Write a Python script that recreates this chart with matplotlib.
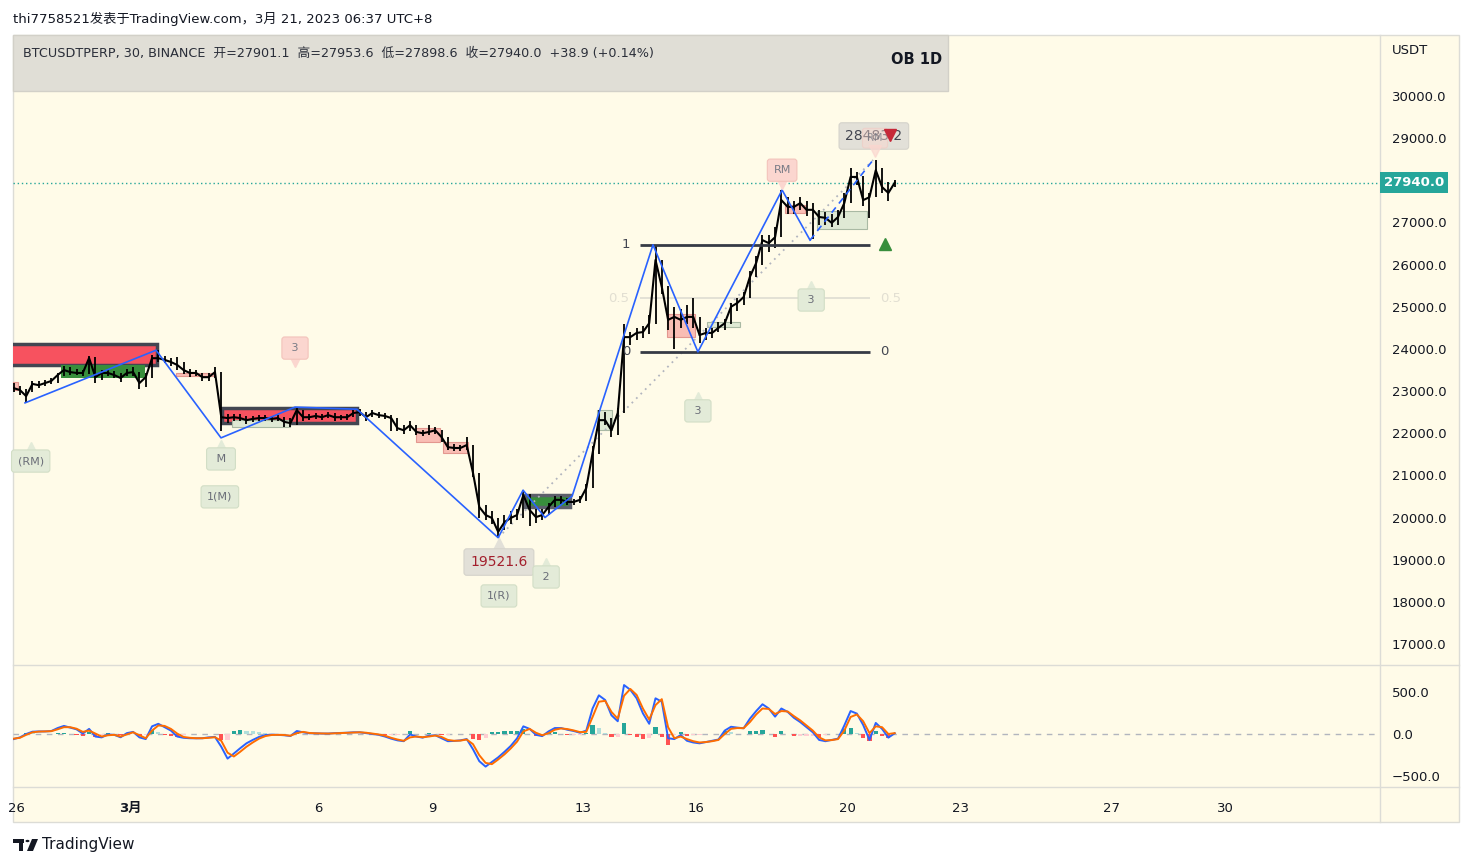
import matplotlib
matplotlib.use("Agg")
import matplotlib.pyplot as plt
import matplotlib.transforms as mtransforms
from matplotlib.patches import Rectangle, Polygon, Circle
from matplotlib.lines import Line2D
import numpy as np

plt.rcParams['font.family'] = ['DejaVu Sans', 'Noto Sans CJK SC']

W, H = 1472, 866
BG = '#fffbe8'

# time axis: days from Mar 1 00:00, one bar every 4h
t_start = -3.083
close = [23070, 23025, 22880, 23170, 23140, 23190, 23240, 23380, 23500, 23450,
         23430, 23430, 23785, 23330, 23430, 23430, 23380, 23310, 23430, 23450,
         23190, 23330, 23780, 23780, 23740, 23690, 23620, 23500, 23430, 23430,
         23330, 23330, 23450, 22380, 22360, 22380, 22360, 22310, 22340, 22360,
         22360, 22340, 22360, 22270, 22240, 22550, 22380, 22380, 22410, 22380,
         22430, 22380, 22380, 22380, 22480, 22500, 22380, 22480, 22430, 22410,
         22360, 22120, 22070, 22190, 22030, 22000, 22030, 22070, 21910, 21670,
         21650, 21650, 21720, 21060, 20250, 20060, 19990, 19660, 19890, 19990,
         20060, 20530, 20180, 20010, 20060, 20250, 20420, 20420, 20370, 20370,
         20420, 20700, 21530, 22310, 22310, 22070, 22480, 24280, 24280, 24380,
         24400, 24610, 26110, 25470, 24690, 24760, 24690, 24760, 24760, 24330,
         24380, 24380, 24500, 24610, 25000, 25090, 25230, 25710, 26040, 26580,
         26510, 26650, 27530, 27370, 27370, 27460, 27300, 27300, 27130, 27110,
         26990, 27130, 27460, 28080, 28080, 27530, 27600, 28240, 27840, 27700,
         27940]

high = [23200, 23120, 23050, 23230, 23230, 23260, 23300, 23420, 23600, 23560,
        23520, 23500, 23840, 23800, 23500, 23530, 23480, 23420, 23520, 23560,
        23450, 23420, 23850, 23970, 23830, 23780, 23800, 23700, 23520, 23500,
        23420, 23430, 23570, 23450, 22450, 22460, 22460, 22420, 22420, 22440,
        22430, 22420, 22430, 22380, 22360, 22620, 22560, 22450, 22470, 22450,
        22500, 22470, 22440, 22450, 22540, 22580, 22500, 22560, 22500, 22470,
        22430, 22360, 22200, 22280, 22200, 22080, 22200, 22140, 22070, 21900,
        21740, 21730, 21900, 21720, 21060, 20300, 20150, 20000, 20050, 20150,
        20200, 20650, 20550, 20200, 20200, 20350, 20500, 20500, 20460, 20450,
        20500, 20800, 21700, 22550, 22500, 22350, 22600, 24600, 24400, 24500,
        24550, 24800, 26470, 26100, 25500, 25000, 24950, 25050, 25200, 24760,
        24500, 24500, 24650, 24700, 25100, 25200, 25350, 25850, 26200, 26700,
        26700, 26900, 27770, 27600, 27500, 27600, 27500, 27450, 27300, 27250,
        27200, 27300, 27700, 28300, 28200, 28100, 27700, 28483.2, 28300, 27950,
        28000]

low = [22990, 22900, 22720, 22990, 23080, 23110, 23160, 23200, 23360, 23380,
       23370, 23360, 23400, 23200, 23260, 23350, 23300, 23220, 23350, 23360,
       23050, 23100, 23300, 23700, 23660, 23600, 23500, 23400, 23340, 23350,
       23250, 23250, 23300, 22050, 22250, 22300, 22280, 22230, 22270, 22290,
       22300, 22260, 22290, 22150, 22150, 22200, 22300, 22320, 22340, 22320,
       22360, 22300, 22310, 22320, 22380, 22420, 22300, 22380, 22370, 22340,
       22050, 22050, 21980, 22050, 21960, 21930, 21960, 21980, 21800, 21600,
       21580, 21580, 21600, 20950, 20000, 19950, 19850, 19521.6, 19700, 19850,
       19950, 20000, 19800, 19880, 19950, 20050, 20250, 20330, 20300, 20300,
       20340, 20400, 20700, 21500, 22200, 21900, 21950, 22480, 24100, 24200,
       24250, 24350, 24600, 25300, 24450, 24000, 24500, 24600, 24500, 24150,
       24200, 24250, 24400, 24450, 24600, 24900, 25050, 25200, 25700, 26000,
       26300, 26400, 26650, 27200, 27200, 27300, 27150, 26600, 26950, 26950,
       26900, 26950, 27100, 27450, 27900, 27400, 27100, 27600, 27700, 27500,
       27850]

macd = [-60, -40, 0, 27, 30, 30, 35, 70, 95, 75,
        55, 5, 60, -30, -40, -5, -10, -39, 10, 25,
        -40, -60, 90, 120, 80, 40, -30, -45, -50, -51,
        -50, -40, -35, -150, -290, -230, -168, -110, -70, -35,
        -12, -8, -10, -15, -24, 35, 20, 8, 8, 5,
        5, 10, 12, 15, 20, 20, 10, 0, -10, -30,
        -55, -75, -85, -5, -30, -43, -20, -15, -50, -85,
        -82, -75, -60, -180, -320, -384, -330, -275, -210, -140,
        -51, 90, 60, -10, -25, 30, 70, 70, 50, 35,
        15, 40, 300, 455, 400, 220, 150, 576, 520, 420,
        243, 120, 420, 380, -50, -60, -12, -80, -100, -110,
        -95, -80, -65, 40, 85, 75, 67, 180, 270, 350,
        300, 204, 300, 260, 190, 140, 80, 20, -70, -85,
        -70, -55, 100, 270, 240, 106, -70, 130, 60, -43,
        8]

signal = [-55, -45, -10, 20, 28, 30, 33, 55, 80, 80,
          62, 25, 40, 5, -30, -15, -10, -30, -5, 20,
          -15, -50, 40, 100, 95, 60, 5, -35, -45, -50,
          -50, -45, -38, -80, -220, -265, -210, -150, -100, -55,
          -25, -12, -10, -12, -20, 10, 25, 12, 8, 6,
          5, 8, 10, 13, 17, 20, 15, 5, -5, -20,
          -45, -65, -80, -40, -30, -38, -30, -18, -35, -70,
          -80, -78, -65, -120, -250, -340, -355, -300, -240, -170,
          -90, 30, 60, 15, -15, 10, 50, 65, 58, 42,
          22, 25, 200, 380, 390, 260, 180, 450, 530, 460,
          300, 170, 340, 410, 80, -50, -30, -60, -85, -100,
          -95, -85, -70, 0, 60, 70, 68, 140, 230, 300,
          295, 235, 270, 265, 210, 160, 100, 40, -40, -75,
          -72, -60, 40, 200, 230, 150, 10, 90, 80, 0,
          10]

hist = [-5, 5, 10, 7, 2, 0, 2, 15, 15, -5,
        -7, -20, 20, -35, -10, 10, 0, -9, 15, 5,
        -25, -10, 50, 20, -15, -20, -35, -10, -5, -1,
        0, 5, 3, -70, -70, 35, 42, 40, 30, 20,
        13, 4, 0, -3, -4, 25, -5, -4, 0, -1,
        0, 2, 2, 2, 3, 0, -5, -5, -5, -10,
        -10, -10, -5, 35, 0, -5, 10, 3, -15, -15,
        -2, 3, 5, -60, -70, -44, 25, 25, 30, 30,
        39, 60, 0, -25, -10, 20, 20, 5, -8, -7,
        -7, 15, 100, 75, 10, -40, -30, 126, -10, -40,
        -57, -50, 80, -30, -130, -10, 18, -20, -15, -10,
        0, 5, 5, 40, 25, 5, -1, 40, 40, 50,
        5, -31, 30, -5, -20, -20, -20, -20, -30, -10,
        2, 5, 60, 70, 10, -44, -80, 40, -20, -43,
        -2]

# zigzag pivots (day, price)
zz_days = [-2.78, 0.69, 2.41, 4.37, 6.01, 9.75, 10.41, 10.99, 11.71, 13.85, 15.04, 17.27, 18.01]
zz_prices = [22720, 23970, 21890, 22620, 22570, 19521.6, 20650, 20000, 20510, 26470, 23930, 27770, 26580]
zz_last_days = [18.01, 19.68]
zz_last_prices = [26580, 28483.2]
trend_days = [9.75, 19.68]
trend_prices = [19521.6, 28483.2]

# fib retracement
fib_span = (13.51, 19.60)
fib_hi, fib_lo = 26470, 23930

# boxes: (day0, day1, top, bottom, kind)
boxes = [
    (-3.5, 0.72, 24116, 23618, 'red'),
    (-1.83, 0.40, 23618, 23310, 'green'),
    (-3.5, -2.97, 23215, 23025, 'pink'),
    (1.22, 2.20, 23435, 23357, 'pink'),
    (2.44, 6.01, 22598, 22242, 'red'),
    (2.70, 4.24, 22313, 22147, 'pale'),
    (7.57, 8.21, 22123, 21791, 'pink'),
    (8.29, 8.95, 21791, 21530, 'pink'),
    (10.46, 11.65, 20534, 20249, 'greenb'),
    (12.37, 12.76, 22551, 22076, 'pale'),
    (14.22, 14.96, 24828, 24282, 'pink'),
    (15.28, 16.15, 24638, 24520, 'pale'),
    (17.35, 17.88, 27414, 27224, 'pink'),
    (18.19, 19.52, 27272, 26845, 'pale'),
]

# bubble labels: (text, day, price, style, pointer)
labels = [
    ("(RM)", -2.63, 21340, 'green', 'up'),
    (" M ", 2.41, 21390, 'green', 'up'),
    ("1(M)", 2.38, 20490, 'green', None),
    (" 3 ", 4.37, 24020, 'pink', 'down'),
    (" 2 ", 11.02, 18590, 'green', 'up'),
    ("1(R)", 9.77, 18140, 'green', None),
    (" 3 ", 15.04, 22530, 'green', 'up'),
    (" 3 ", 18.04, 25160, 'green', 'up'),
    ("RM", 17.27, 28240, 'pink', 'down'),
]
price_tags = [("19521.6", 9.77, 18944, '#a31f2d'), ("28483.2", 19.70, 29051, '#434651')]
top_rm = ("RM", 19.73, 29000)

last_price = 27940.0
price_ticks = [17000, 18000, 19000, 20000, 21000, 22000, 23000, 24000, 25000, 26000, 27000, 29000, 30000]
date_ticks = [-3, 0, 5, 8, 12, 15, 19, 22, 26, 29]
date_labels = ["26", "3月", "6", "9", "13", "16", "20", "23", "27", "30"]

t = t_start + np.arange(len(close)) / 6.0

fig = plt.figure(figsize=(W / 100, H / 100), dpi=100)
fig.patch.set_facecolor('white')


def fx(p):
    return p / W


def fy(p):
    return 1 - p / H


def px_axes(x0, y0, x1, y1):
    return fig.add_axes([fx(x0), fy(y1), (x1 - x0) / W, (y1 - y0) / H])


fig.add_artist(Rectangle((fx(13), fy(822)), (1459 - 13) / W, (822 - 35) / H,
                         transform=fig.transFigure, fc=BG, ec='#dcdcd6', lw=1, zorder=-5))
for (x0, y0, x1, y1) in [(13, 665, 1459, 665), (13, 787, 1459, 787), (1380, 35, 1380, 822)]:
    fig.add_artist(Line2D([fx(x0), fx(x1)], [fy(y0), fy(y1)], transform=fig.transFigure,
                          color='#dcdcd6', lw=1, zorder=-4))

ax = px_axes(13, 35, 1380, 665)
ax.set_facecolor('none')
ax.set_xlim(-3.0985, 33.104)
ax.set_ylim(16502, 31447)
for s in ax.spines.values():
    s.set_visible(False)
ax.tick_params(axis='x', bottom=False, labelbottom=False)
ax.yaxis.tick_right()
ax.set_yticks(price_ticks)
ax.set_yticklabels([f"{v:.1f}" for v in price_ticks])
ax.tick_params(axis='y', length=0, pad=8.5, labelsize=9.5, colors='#131722')

# boxes
styles = {
    'red': dict(fc='#f7525f', ec='#434651', lw=2.5),
    'green': dict(fc='#388e3c', ec='none', lw=0),
    'greenb': dict(fc='#388e3c', ec='#5d606b', lw=2.5),
    'pink': dict(fc='#f9bdb4', ec='#e3978f', lw=0.8),
    'pale': dict(fc='#dfe9d4', ec='#a9b9a3', lw=0.8),
}
for d0, d1, top, bot, kind in boxes:
    r = ax.add_patch(Rectangle((d0, bot), d1 - d0, top - bot, zorder=2, **styles[kind]))
    r.set_clip_box(ax.bbox)

# price bars
ax.vlines(t, low, high, color='black', lw=1.3, zorder=3)
ax.plot(t, close, color='black', lw=1.5, zorder=3)

# zigzag + trend
ax.plot(zz_days, zz_prices, color='#2962ff', lw=1.2, zorder=4)
ax.plot(zz_last_days, zz_last_prices, color='#2962ff', lw=1.2, ls=(0, (4, 3)), zorder=4)
ax.plot(trend_days, trend_prices, color='#b2b5be', lw=1.3, ls=(0, (1, 2.5)), zorder=2.5)

# fib
ax.hlines([fib_hi, fib_lo], fib_span[0], fib_span[1], color='#363a45', lw=2, zorder=3.5)
ax.hlines((fib_hi + fib_lo) / 2, fib_span[0], fib_span[1], color='#dedcd2', lw=1.2, zorder=2)
ax.text(fib_span[0] - 0.37, fib_hi, "1", ha='center', va='center', fontsize=9.5, color='#434651')
ax.text(fib_span[0] - 0.37, fib_lo, "0", ha='center', va='center', fontsize=9.5, color='#434651')
ax.text(fib_span[1] + 0.37, fib_lo, "0", ha='center', va='center', fontsize=9.5, color='#434651')
ax.text(fib_span[0] - 0.58, (fib_hi + fib_lo) / 2, "0.5", ha='center', va='center', fontsize=9.5, color='#e2dfd2')
ax.text(fib_span[1] + 0.55, (fib_hi + fib_lo) / 2, "0.5", ha='center', va='center', fontsize=9.5, color='#e2dfd2')

# last price line
ax.axhline(last_price, color='#26a69a', lw=1, ls=(0, (1, 2)), zorder=1)
blend = mtransforms.blended_transform_factory(ax.transAxes, ax.transData)
ax.text(1.0 + 4 / 1367, last_price, f"{last_price:.1f}", transform=blend, ha='left', va='center',
        fontsize=9.5, color='white', fontweight='bold', clip_on=False,
        bbox=dict(boxstyle='square,pad=0.3', fc='#26a69a', ec='none'), zorder=7)
ax.text(1.0 + 12 / 1367, 0.976, "USDT", transform=ax.transAxes, ha='left', va='center',
        fontsize=9.5, color='#131722', clip_on=False)

# bubbles
bstyle = {'green': ('#e3ebd8', '#d2dec6', '#6a6d78'), 'pink': ('#fbd6cf', '#f3c3bb', '#787b86')}
for txt, d, p, st, ptr in labels:
    fc, ec, tc = bstyle[st]
    ax.text(d, p, txt, ha='center', va='center', fontsize=8, color=tc, zorder=6,
            bbox=dict(boxstyle='round,pad=0.55,rounding_size=0.25', fc=fc, ec=ec, lw=0.8))
    if ptr:
        dy = 13 if ptr == 'up' else -13
        tr = mtransforms.offset_copy(ax.transData, fig=fig, x=0, y=dy, units='dots')
        ax.plot([d], [p], marker='^' if ptr == 'up' else 'v', ms=9, color=fc, mec=fc,
                transform=tr, zorder=5.9)
for txt, d, p, tc in price_tags:
    ax.text(d, p, txt, ha='center', va='center', fontsize=10, color=tc, zorder=5.5,
            bbox=dict(boxstyle='round,pad=0.45,rounding_size=0.2', fc='#e2e0d8', ec='#d5d3cb', lw=0.8))
tr = mtransforms.offset_copy(ax.transData, fig=fig, x=0, y=17, units='dots')
ax.plot([price_tags[0][1]], [price_tags[0][2]], marker='^', ms=10, color='#e2e0d8', transform=tr, zorder=5.4)

# faint "RM" bubble sitting over the high tag
ax.text(top_rm[1], top_rm[2], top_rm[0], ha='center', va='center', fontsize=7, color='#787b86', alpha=0.8,
        zorder=5.8, bbox=dict(boxstyle='round,pad=0.5,rounding_size=0.25', fc='#fbd6cf', ec='#f3c3bb',
                              lw=0.8, alpha=0.45))
tr = mtransforms.offset_copy(ax.transData, fig=fig, x=0, y=-13, units='dots')
ax.plot([top_rm[1]], [top_rm[2]], marker='v', ms=9, color='#fbd6cf', alpha=0.7, transform=tr, zorder=5.8)
# signal triangles
ax.plot([20.13], [29075], marker='v', ms=9, color='#c62838', zorder=7)
ax.plot([19.99], [26489], marker='^', ms=9, color='#388e3c', zorder=7)

# MACD pane
ax2 = px_axes(13, 665, 1380, 787)
ax2.set_facecolor('none')
ax2.set_xlim(-3.0985, 33.104)
ax2.set_ylim(-624, 812)
for s in ax2.spines.values():
    s.set_visible(False)
hist_a = np.array(hist, dtype=float)
cols = []
for i, v in enumerate(hist_a):
    prev = hist_a[i - 1] if i else v
    if v >= 0:
        cols.append('#26a69a' if v >= prev else '#b2dfdb')
    else:
        cols.append('#ffcdd2' if v >= prev else '#ff5252')
ax2.bar(t, hist_a, width=0.11, color=cols, zorder=2)
ax2.axhline(0, color='#b2b5be', lw=1, ls=(0, (4, 4)), zorder=1)
ax2.plot(t, macd, color='#2962ff', lw=1.4, zorder=3)
ax2.plot(t, signal, color='#ff6d00', lw=1.4, zorder=4)
ax2.yaxis.tick_right()
ax2.set_yticks([500, 0, -500])
ax2.set_yticklabels(["500.0", "0.0", "\u2212500.0"])
ax2.tick_params(axis='y', length=0, pad=8.5, labelsize=9.5, colors='#131722')
ax2.set_xticks(date_ticks)
ax2.set_xticklabels(date_labels)
ax2.tick_params(axis='x', length=0, pad=11, labelsize=9.5, colors='#131722')
for lab in ax2.get_xticklabels():
    if lab.get_text() == "3月":
        lab.set_fontweight('bold')

# header
fig.add_artist(Rectangle((fx(13), fy(91)), (948 - 13) / W, (91 - 35) / H, transform=fig.transFigure,
                         fc='#e0ded6', ec='#d2d0c8', lw=1, zorder=5))
fig.text(fx(23), fy(53), "BTCUSDTPERP, 30, BINANCE  开=27901.1  高=27953.6  低=27898.6  收=27940.0  +38.9 (+0.14%)",
         ha='left', va='center', fontsize=9.2, color='#2a2e39', zorder=6)
fig.text(fx(942), fy(59), "OB 1D", ha='right', va='center', fontsize=10.5, fontweight='bold', color='#131722', zorder=6)
fig.text(fx(13), fy(19), "thi7758521发表于TradingView.com，3月 21, 2023 06:37 UTC+8",
         ha='left', va='center', fontsize=9.5, color='#131722')

# footer logo
fig.add_artist(Rectangle((fx(13), fy(843)), 11 / W, 4 / H, transform=fig.transFigure, fc='#131722', ec='none'))
fig.add_artist(Rectangle((fx(19), fy(851)), 4 / W, 10 / H, transform=fig.transFigure, fc='#131722', ec='none'))
fig.add_artist(Polygon([[fx(27), fy(851)], [fx(32), fy(839)], [fx(38), fy(839)], [fx(33), fy(851)]],
                       closed=True, transform=fig.transFigure, fc='#131722', ec='none'))
fig.add_artist(Circle((fx(27.5), fy(841)), 2 / W, transform=fig.transFigure, fc='#131722', ec='none'))
fig.text(fx(42), fy(845), "TradingView", ha='left', va='center', fontsize=11, color='#131722')

fig.savefig("out.png", dpi=100, facecolor='white')
